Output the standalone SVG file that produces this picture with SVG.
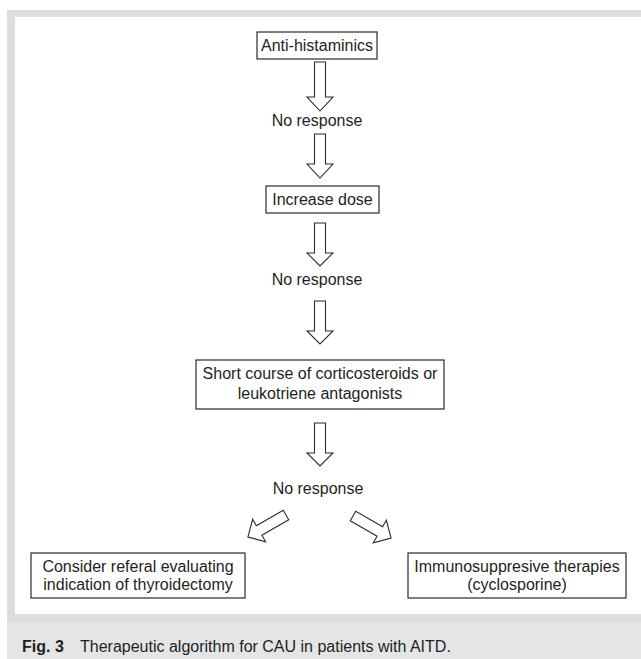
<svg xmlns="http://www.w3.org/2000/svg" width="641" height="659" viewBox="0 0 641 659">
  <style>
    .frame { fill: #dcdddf; }
    .caption-band { fill: #e4e5e7; }
    .box { fill: #ffffff; stroke: #2b2b2b; stroke-width: 1.2; }
    .arrow { fill: #ffffff; stroke: #2b2b2b; stroke-width: 1.1; stroke-linejoin: miter; }
    .t { font-family: "Liberation Sans", Arial, sans-serif; font-size: 16px; fill: #231f20; text-anchor: middle; }
    .cap { font-family: "Liberation Sans", Arial, sans-serif; font-size: 16px; fill: #231f20; }
    .capb { font-weight: bold; }
  </style>
  <defs>
    <path id="darrow" d="M -5.5 0 H 5.5 V 31 H 13 L 0 44 L -13 31 H -5.5 Z"/>
  </defs>

  <rect width="641" height="659" fill="#ffffff"/>
  <rect class="frame" x="7" y="10" width="634" height="649"/>
  <rect x="15" y="17" width="626" height="597" fill="#ffffff"/>
  <rect class="caption-band" x="7" y="622" width="634" height="37"/>

  <g id="connectors">
    <path class="arrow" d="M 314.5 62 H 325.5 V 97 H 333 L 320 111 L 307 97 H 314.5 Z"/>
    <path class="arrow" d="M 314.5 134 H 325.5 V 164 H 333 L 320 178 L 307 164 H 314.5 Z"/>
    <path class="arrow" d="M 314.5 223 H 325.5 V 253 H 333 L 320 266 L 307 253 H 314.5 Z"/>
    <path class="arrow" d="M 314.5 301 H 325.5 V 331 H 333 L 320 344 L 307 331 H 314.5 Z"/>
    <path class="arrow" d="M 314.5 423 H 325.5 V 453 H 333 L 320 466 L 307 453 H 314.5 Z"/>
    <use href="#darrow" class="arrow" transform="translate(286,515) rotate(60)"/>
    <use href="#darrow" class="arrow" transform="translate(353,516) rotate(-60)"/>
  </g>

  <g id="node-antihistaminics">
    <rect class="box" x="257" y="32" width="120" height="27"/>
    <text class="t" x="317" y="51">Anti-histaminics</text>
  </g>

  <g id="label-noresponse-1">
    <text class="t" x="317" y="126">No response</text>
  </g>

  <g id="node-increase-dose">
    <rect class="box" x="266" y="186" width="113" height="27"/>
    <text class="t" x="322.5" y="205">Increase dose</text>
  </g>

  <g id="label-noresponse-2">
    <text class="t" x="317" y="285">No response</text>
  </g>

  <g id="node-short-course">
    <rect class="box" x="196" y="360" width="248" height="49"/>
    <text class="t" x="320" y="379">Short course of corticosteroids or</text>
    <text class="t" x="320" y="399">leukotriene antagonists</text>
  </g>

  <g id="label-noresponse-3">
    <text class="t" x="318" y="494">No response</text>
  </g>

  <g id="node-referal">
    <rect class="box" x="31" y="553" width="214" height="45"/>
    <text class="t" x="138" y="572">Consider referal evaluating</text>
    <text class="t" x="138" y="590">indication of thyroidectomy</text>
  </g>

  <g id="node-immunosuppresive">
    <rect class="box" x="408" y="553" width="218" height="45"/>
    <text class="t" x="517" y="572">Immunosuppresive therapies</text>
    <text class="t" x="517" y="590">(cyclosporine)</text>
  </g>

  <g id="caption">
    <text class="cap capb" x="22" y="652">Fig. 3</text>
    <text class="cap" x="80" y="652">Therapeutic algorithm for CAU in patients with AITD.</text>
  </g>
</svg>
